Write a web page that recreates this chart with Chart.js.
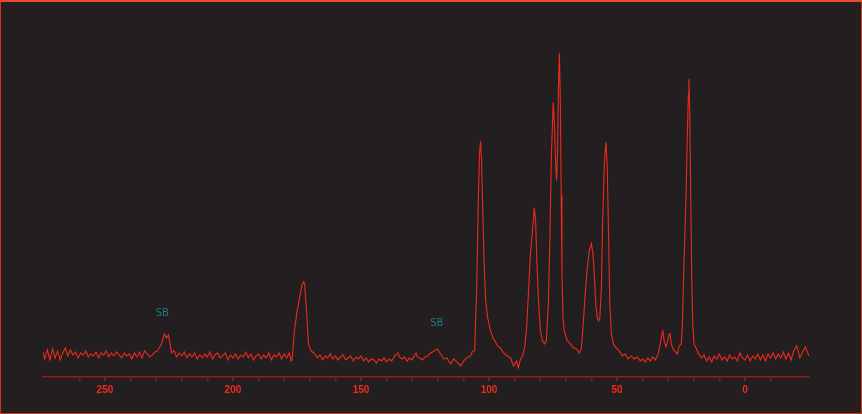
<!DOCTYPE html>
<html><head><meta charset="utf-8">
<script src="https://cdn.jsdelivr.net/npm/chart.js@4/dist/chart.umd.min.js"></script>
<style>html,body{margin:0;padding:0;background:#231f20;}canvas{display:block}</style>
</head><body>
<canvas id="c" width="862" height="414"></canvas>
<script>
// Chemical shift (ppm) and signal intensity
const ppm = [
 274.2,273.5,272.5,271.5,270.5,269.5,268.5,267.5,266.5,265.5,
 264.5,263.5,262.5,261.5,260.5,259.5,258.5,257.5,256.5,255.5,
 254.5,253.5,252.5,251.5,250.5,249.5,248.5,247.5,246.5,245.5,
 244.5,243.5,242.5,241.5,240.5,239.5,238.5,237.5,236.5,235.5,
 234.5,233.5,232.5,231.5,230.5,229.5,228.6,227.9,226.8,226.0,
 225.2,224.4,224.0,223.0,222.0,221.0,220.0,219.0,218.0,217.0,
 216,215,214,213,212,211,210,209,208,207,
 206,205,204,203,202,201,200,199,198,197,
 196,195,194,193,192,191,190,189,188,187,
 186,185,184,183,182,181,180,179,178,177.3,
 176.9,176.0,175.1,174.0,173.1,172.4,172.0,171.2,170.5,169.5,
 168.4,167.5,167,166,165,164,163,162,161,160,
 159,158,157,156,155,154,153,152,151,150,
 149,148,147,146,145,144,143,142,141,140,
 139,138,137,136,135.5,135,134,133,132,131,
 130,129,128.5,128,127,126,125,124,122.8,121.4,
 120.2,118.9,117.7,116.5,115,113.8,112.2,111,109.9,108.7,
 107.2,106.4,105.6,104.8,104.2,103.7,103.3,102.9,102.5,101.9,
 101.3,100.5,99.4,98.2,96.6,95.5,94.3,92.8,91.6,90.4,
 89.2,88.5,87.7,86.9,86.1,85.3,84.6,83.8,83.0,82.3,
 81.8,81.3,80.6,79.9,79.1,78.3,77.6,76.8,76.2,75.6,
 74.9,74.4,74.0,73.6,73.2,72.9,72.5,72.1,71.8,71.5,
 71.1,70.6,69.4,68.2,67.0,65.9,64.7,63.9,63.1,62.4,
 61.6,60.8,60.0,59.4,58.8,58.3,57.7,57.2,56.7,56.1,
 55.6,54.9,54.3,53.8,53.4,52.8,52.2,51.4,50.3,49.1,
 47.9,46.8,45.6,44.4,43.3,42.1,40.9,40,39,38,
 37,36,35,34.5,33.9,33.1,32.4,32.1,31.6,30.9,
 30.4,29.6,29.3,28.8,28.1,26.9,26.4,25.7,24.9,24.5,
 24.0,23.4,23.0,22.6,22.1,21.9,21.6,21.2,20.8,20.4,
 19.9,19.1,18.3,17.5,17,16,15,14,13,12,
 11,10,9,8,7,6,5,4,3,2,
 1,0,-1,-2,-3,-4,-5,-6,-7,-8,
 -9,-10,-11,-12,-13,-14,-15,-16,-17,-18,
 -19,-20.2,-21.4,-22.5,-23.6,-25
];
const intensity = [
 4,-3,6,-4,7,-2,5,-4,3,8,
 0,6,1,4,-2,3,1,5,-1,2,
 0,4,-2,3,1,5,-1,3,0,4,
 1,-2,3,0,2,-3,3,-1,4,-2,
 5,2,-1,1,4,5,9,12,22,18,
 21,10,3,5,-1,3,0,4,-2,2,
 -1,3,-3,1,-2,2,-1,4,-3,1,
 3,-2,0,3,-4,1,-2,2,-3,1,
 -1,4,-2,2,-4,0,2,-3,1,-2,
 3,-4,1,-1,3,-3,2,-2,3,-5,
 -4,25,42,58,70,74,72,42,12,5,
 3,0,-2,1,-4,0,-2,2,-3,0,
 -4,-1,1,-4,-2,0,-5,-1,-3,0,
 -5,-2,-6,-3,-4,-7,-3,-5,-2,-6,
 -3,-5,-1,2,3,-1,-3,-1,-5,-2,
 -4,1,3,-1,-2,-4,-1,0,3,5,
 7,2,-3,-2,-8,-3,-7,-10,-5,-2,
 0,5,5,68,152,202,214,195,152,92,
 55,38,25,17,10,8,3,0,-2,-10,
 -5,-12,-3,0,8,28,62,102,125,148,
 135,95,52,25,15,12,15,52,118,202,
 253,228,195,175,205,265,302,248,160,85,
 38,25,15,12,8,7,3,8,35,62,
 88,105,112,102,78,52,38,35,38,68,
 135,195,213,188,135,52,22,12,8,5,
 0,2,-3,0,-3,-1,-5,-3,-6,-2,
 -5,-1,-4,-1,2,12,23,26,15,9,
 13,22,23,12,7,3,2,10,12,28,
 78,128,162,212,262,276,245,162,78,32,
 12,8,3,0,-2,1,-5,-1,-6,0,
 -3,2,-4,-1,-5,1,-3,-1,-5,3,
 -2,-4,1,-5,0,-3,2,-4,1,-5,
 2,-2,3,-3,2,-2,4,-3,3,-4,
 5,10,-2,4,9,0
];
const tickLabelValues = [250, 200, 150, 100, 50, 0];
const annotationPpm = [227.6, 120.4];
const annotationHeight = [42, 32];
const annotationText = ['SB', 'SB'];

const points = ppm.map((p, i) => ({ x: p, y: intensity[i] }));

const frame = {
  id: 'frame',
  beforeDraw(chart) {
    const c = chart.ctx;
    c.save();
    c.fillStyle = '#231f20';
    c.fillRect(0, 0, chart.width, chart.height);
    c.restore();
  },
  afterDraw(chart) {
    const c = chart.ctx;
    const w = chart.width, h = chart.height;
    c.save();
    c.strokeStyle = '#d9301d';
    c.lineWidth = 1;
    c.strokeRect(0.5, 0.5, w - 1, h - 1);
    c.strokeStyle = '#ea4a33';
    c.lineWidth = 2;
    c.beginPath(); c.moveTo(0, 1); c.lineTo(w, 1); c.stroke();
    c.restore();
  }
};

const notes = {
  id: 'notes',
  afterDatasetsDraw(chart) {
    const c = chart.ctx, sx = chart.scales.x, sy = chart.scales.y;
    c.save();
    c.fillStyle = '#1e7b7a';
    c.font = '10px "DejaVu Sans", sans-serif';
    c.textAlign = 'center';
    c.textBaseline = 'middle';
    annotationText.forEach((t, i) => {
      c.fillText(t, sx.getPixelForValue(annotationPpm[i]), sy.getPixelForValue(annotationHeight[i]));
    });
    c.restore();
  }
};

new Chart(document.getElementById('c'), {
  type: 'line',
  data: {
    datasets: [{
      data: points,
      borderColor: '#ee2a1b',
      borderWidth: 1.1,
      pointRadius: 0,
      tension: 0,
      fill: false
    }]
  },
  options: {
    responsive: false,
    animation: false,
    devicePixelRatio: 1,
    layout: { padding: { left: 43, right: 53, top: 10, bottom: 15 } },
    plugins: { legend: { display: false }, tooltip: { enabled: false } },
    scales: {
      x: {
        type: 'linear',
        reverse: true,
        min: -25,
        max: 274.2,
        afterBuildTicks(scale) {
          scale.ticks = scale.ticks.filter(t => Math.abs(t.value / 10 - Math.round(t.value / 10)) < 1e-6);
        },
        ticks: {
          stepSize: 10,
          autoSkip: false,
          maxRotation: 0,
          padding: 3,
          color: '#f02a1c',
          font: { family: '"Liberation Sans", Arial, sans-serif', size: 10, weight: 'bold' },
          callback: (v) => tickLabelValues.includes(v) ? String(v) : ''
        },
        grid: { drawOnChartArea: false, drawTicks: true, tickLength: 4, color: '#8c1f16', lineWidth: 1.5 },
        border: { display: true, color: '#8c1f16', width: 1.5 }
      },
      y: { display: false, min: -21, max: 345 }
    }
  },
  plugins: [frame, notes]
});
</script>
</body></html>
